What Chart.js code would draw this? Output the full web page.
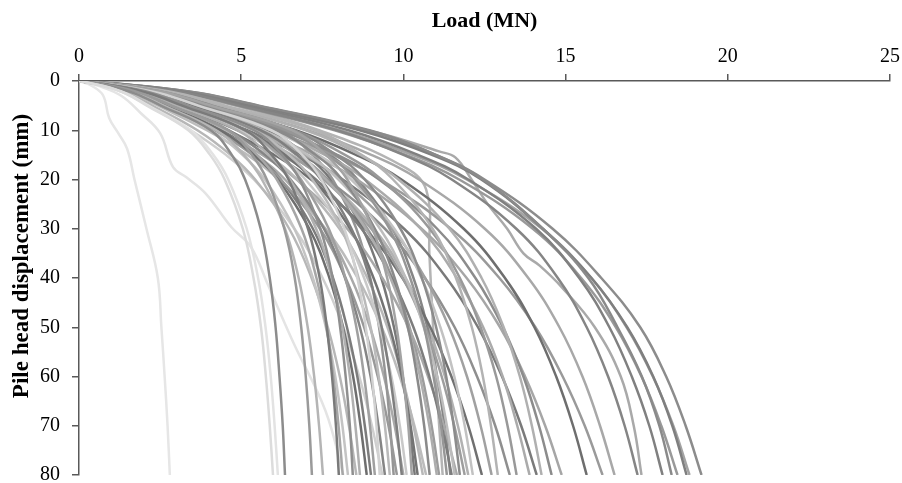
<!DOCTYPE html>
<html>
<head>
<meta charset="utf-8">
<script src="https://cdn.jsdelivr.net/npm/chart.js@4/dist/chart.umd.min.js"></script>
<style>
  html, body { margin: 0; background: #fff; }
</style>
</head>
<body>
<canvas id="myChart" width="902" height="483"></canvas>
<script>
'use strict';
const displacement = [0, 1, 2.5, 5, 10, 15, 20, 30, 40, 50, 60, 70, 80];

// load (MN) of each pile test at those displacements
const pileLoads = [
  [0, 0.74, 1.42, 2.09, 3.37, 4.04, 4.49, 5.05, 5.38, 5.61, 5.76, 5.88, 5.98],
  [0, 0.76, 1.45, 2.14, 3.45, 4.14, 4.60, 5.17, 5.52, 5.75, 5.91, 6.03, 6.13],
  [0, 0.89, 1.71, 2.52, 4.06, 4.71, 5.12, 5.60, 5.88, 6.06, 6.18, 6.28, 6.35],
  [0, 1.01, 1.93, 2.85, 4.60, 5.33, 5.79, 6.33, 6.65, 6.85, 6.99, 7.10, 7.18],
  [0, 0.93, 1.78, 2.62, 4.23, 5.08, 5.64, 6.35, 6.77, 7.05, 7.25, 7.40, 7.52],
  [0, 1.13, 2.15, 3.18, 5.13, 5.94, 6.46, 7.06, 7.42, 7.64, 7.80, 7.92, 8.01],
  [0, 1.01, 1.92, 2.84, 4.58, 5.49, 6.10, 6.86, 7.32, 7.63, 7.84, 8.00, 8.13],
  [0, 0.89, 1.71, 2.52, 4.06, 5.04, 5.73, 6.64, 7.21, 7.61, 7.90, 8.12, 8.29],
  [0, 1.19, 2.27, 3.35, 5.40, 6.26, 6.80, 7.44, 7.82, 8.05, 8.22, 8.35, 8.44],
  [0, 1.07, 2.05, 3.03, 4.88, 5.85, 6.50, 7.31, 7.79, 8.12, 8.35, 8.52, 8.66],
  [0, 0.96, 1.83, 2.70, 4.35, 5.39, 6.13, 7.10, 7.72, 8.14, 8.45, 8.68, 8.87],
  [0, 1.13, 2.15, 3.18, 5.13, 6.16, 6.84, 7.70, 8.21, 8.55, 8.79, 8.97, 9.12],
  [0, 1.30, 2.49, 3.68, 5.93, 6.88, 7.47, 8.18, 8.58, 8.84, 9.03, 9.17, 9.27],
  [0, 1.02, 1.94, 2.86, 4.62, 5.73, 6.52, 7.55, 8.20, 8.66, 8.99, 9.23, 9.43],
  [0, 1.19, 2.26, 3.34, 5.39, 6.47, 7.19, 8.09, 8.62, 8.99, 9.24, 9.43, 9.58],
  [0, 0.92, 1.76, 2.59, 4.18, 5.35, 6.22, 7.43, 8.22, 8.79, 9.21, 9.54, 9.80],
  [0, 1.23, 2.35, 3.47, 5.60, 6.72, 7.46, 8.40, 8.96, 9.33, 9.59, 9.79, 9.95],
  [0, 1.09, 2.08, 3.07, 4.95, 6.14, 6.98, 8.09, 8.79, 9.27, 9.63, 9.89, 10.10],
  [0, 1.45, 2.76, 4.07, 6.57, 7.61, 8.27, 9.05, 9.50, 9.79, 9.99, 10.15, 10.26],
  [0, 1.13, 2.15, 3.17, 5.12, 6.35, 7.21, 8.36, 9.08, 9.58, 9.95, 10.22, 10.44],
  [0, 1.00, 1.90, 2.81, 4.53, 5.79, 6.73, 8.03, 8.89, 9.51, 9.96, 10.31, 10.60],
  [0, 1.34, 2.56, 3.78, 6.09, 7.30, 8.11, 9.12, 9.73, 10.14, 10.42, 10.64, 10.81],
  [0, 1.19, 2.27, 3.35, 5.40, 6.71, 7.62, 8.84, 9.60, 10.13, 10.51, 10.80, 11.03],
  [0, 1.40, 2.68, 3.96, 6.38, 7.65, 8.51, 9.57, 10.21, 10.64, 10.93, 11.16, 11.34],
  [0, 1.08, 2.06, 3.04, 4.91, 6.27, 7.30, 8.71, 9.64, 10.31, 10.80, 11.18, 11.49],
  [0, 1.25, 2.38, 3.52, 5.67, 7.04, 8.00, 9.28, 10.07, 10.63, 11.04, 11.34, 11.58],
  [0, 0.94, 1.80, 2.66, 4.29, 5.65, 6.71, 8.27, 9.35, 10.16, 10.76, 11.25, 11.65],
  [0, 1.45, 2.78, 4.10, 6.61, 7.92, 8.81, 9.91, 10.57, 11.01, 11.32, 11.55, 11.74],
  [0, 1.12, 2.13, 3.15, 5.08, 6.49, 7.55, 9.01, 9.98, 10.67, 11.18, 11.57, 11.89],
  [0, 1.31, 2.50, 3.69, 5.95, 7.38, 8.39, 9.72, 10.56, 11.14, 11.57, 11.89, 12.14],
  [0, 1.01, 1.92, 2.83, 4.57, 6.02, 7.15, 8.82, 9.97, 10.83, 11.48, 12.00, 12.42],
  [0, 1.19, 2.28, 3.37, 5.43, 6.95, 8.08, 9.64, 10.67, 11.41, 11.96, 12.38, 12.72],
  [0, 1.60, 3.05, 4.51, 7.27, 8.71, 9.68, 10.90, 11.62, 12.11, 12.45, 12.70, 12.91],
  [0, 1.08, 2.05, 3.03, 4.89, 6.44, 7.65, 9.43, 10.66, 11.58, 12.27, 12.83, 13.28],
  [0, 1.45, 2.78, 4.10, 6.61, 8.20, 9.32, 10.81, 11.74, 12.38, 12.86, 13.21, 13.49],
  [0, 1.30, 2.49, 3.68, 5.93, 7.58, 8.82, 10.53, 11.65, 12.46, 13.06, 13.51, 13.89],
  [0, 1.14, 2.18, 3.22, 5.19, 6.84, 8.13, 10.02, 11.33, 12.30, 13.04, 13.63, 14.11],
  [0, 1.54, 2.94, 4.33, 6.99, 8.67, 9.85, 11.42, 12.41, 13.09, 13.59, 13.96, 14.26],
  [0, 1.37, 2.61, 3.86, 6.22, 7.96, 9.25, 11.04, 12.22, 13.07, 13.70, 14.18, 14.57],
  [0, 1.21, 2.30, 3.40, 5.48, 7.22, 8.57, 10.56, 11.95, 12.98, 13.75, 14.37, 14.88],
  [0, 1.47, 2.81, 4.14, 6.68, 8.54, 9.94, 11.86, 13.13, 14.04, 14.71, 15.23, 15.65],
  [0, 1.31, 2.49, 3.68, 5.94, 7.83, 9.30, 11.46, 12.96, 14.07, 14.91, 15.59, 16.14],
  [0, 1.55, 2.96, 4.37, 7.05, 9.01, 10.48, 12.51, 13.85, 14.81, 15.52, 16.06, 16.51],
  [0, 1.75, 3.34, 4.94, 7.96, 10.00, 11.49, 13.48, 14.76, 15.65, 16.31, 16.82, 17.22],
  [0, 1.83, 3.49, 5.15, 8.31, 10.45, 12.00, 14.09, 15.42, 16.35, 17.04, 17.58, 17.99],
  [0, 1.97, 3.76, 5.55, 8.95, 11.00, 12.45, 14.30, 15.70, 16.60, 17.35, 17.89, 18.27],
  [0, 1.73, 3.31, 4.89, 7.88, 10.07, 11.72, 13.99, 15.48, 16.55, 17.34, 17.95, 18.45],
  [0, 1.90, 3.63, 5.36, 8.65, 10.88, 12.40, 14.30, 15.80, 16.90, 17.70, 18.29, 18.73],
  [0, 1.77, 3.38, 4.98, 8.04, 10.28, 11.95, 14.27, 15.79, 16.88, 17.69, 18.32, 18.82],
  [0, 1.95, 3.73, 5.50, 8.87, 11.00, 12.50, 14.60, 16.10, 17.30, 18.10, 18.70, 19.19],
  [0, 0.80, 1.53, 2.26, 3.65, 4.67, 5.43, 6.48, 7.17, 7.67, 8.04, 8.32, 8.55],
  [0, 0.97, 1.85, 2.73, 4.41, 5.47, 6.22, 7.21, 7.83, 8.26, 8.58, 8.81, 9.00],
  [0, 0.76, 1.44, 2.13, 3.44, 4.53, 5.39, 6.64, 7.51, 8.15, 8.64, 9.03, 9.35],
  [0, 1.37, 2.61, 3.85, 6.21, 7.20, 7.82, 8.55, 8.98, 9.25, 9.45, 9.59, 9.70],
  [0, 0.94, 1.79, 2.65, 4.27, 5.46, 6.35, 7.58, 8.39, 8.97, 9.40, 9.73, 10.00],
  [0, 1.28, 2.45, 3.61, 5.83, 6.99, 7.76, 8.74, 9.32, 9.71, 9.98, 10.18, 10.35],
  [0, 0.87, 1.65, 2.44, 3.94, 5.19, 6.16, 7.60, 8.59, 9.33, 9.89, 10.34, 10.70],
  [0, 1.20, 2.28, 3.37, 5.44, 6.75, 7.67, 8.89, 9.66, 10.19, 10.58, 10.87, 11.10],
  [0, 1.42, 2.70, 3.99, 6.44, 7.73, 8.59, 9.66, 10.31, 10.74, 11.04, 11.27, 11.45],
  [0, 1.13, 2.15, 3.17, 5.12, 6.55, 7.62, 9.10, 10.07, 10.76, 11.28, 11.68, 12.00],
];
const pileGreys = [
  '#dcdcdc', '#e3e3e3', '#8c8c8c', '#9a9a9a', '#b5b5b5', '#7a7a7a', '#a6a6a6', '#c4c4c4', '#8f8f8f', '#b0b0b0',
  '#6e6e6e', '#a0a0a0', '#d2d2d2', '#858585', '#bababa', '#999999', '#7f7f7f', '#c9c9c9', '#a3a3a3', '#737373',
  '#b8b8b8', '#8a8a8a', '#adadad', '#969696', '#7d7d7d', '#bdbdbd', '#a8a8a8', '#8c8c8c', '#9e9e9e', '#c2c2c2',
  '#707070', '#a1a1a1', '#b3b3b3', '#8f8f8f', '#999999', '#ababab', '#7a7a7a', '#b0b0b0', '#8c8c8c', '#a6a6a6',
  '#6e6e6e', '#9a9a9a', '#a8a8a8', '#858585', '#808080', '#8a8a8a', '#999999', '#7f7f7f', '#a3a3a3', '#8c8c8c',
  '#b7b7b7', '#7c7c7c', '#cfcfcf', '#959595', '#a9a9a9', '#787878', '#bcbcbc', '#9c9c9c', '#868686', '#b2b2b2',
];

// the two soft piles on the left
const softDispA = [0, 1, 2.9, 7.5, 10.5, 13.7, 20, 30, 40, 50, 60, 70, 80];
const softLoadA = [0, 0.40, 0.74, 0.93, 1.20, 1.48, 1.71, 2.08, 2.43, 2.54, 2.64, 2.73, 2.80];
const softDispB = [0, 1, 3, 6.5, 10.6, 17.5, 19.5, 22.8, 29.7, 33.7, 41, 53, 67, 80];
const softLoadB = [0, 0.60, 1.30, 1.90, 2.50, 2.90, 3.30, 3.90, 4.70, 5.30, 5.80, 6.60, 7.60, 8.15];

// pile with a kink near 15 mm
const kinkDisp = [0, 1, 3, 7, 10.5, 14.3, 15.5, 20, 25, 30, 35, 37.5, 42, 50, 60, 70, 80];
const kinkLoad = [0, 1.8, 4.0, 6.6, 9.2, 11.1, 11.6, 12.1, 12.6, 13.2, 13.7, 14.2, 14.9, 15.9, 16.7, 17.1, 17.34];

// pile that drops almost straight down at about 10.8 MN
const dropDisp = [0, 1, 2.5, 5, 10, 17, 22, 35, 48, 60, 80];
const dropLoad = [0, 1.5, 3.0, 4.8, 7.4, 9.9, 10.7, 10.8, 10.9, 11.0, 11.21];

const loadTicks = [0, 5, 10, 15, 20, 25];
const dispTicks = [0, 10, 20, 30, 40, 50, 60, 70, 80];
const yTitle = 'Pile head displacement (mm)';

function toPoints(loads, disps) {
  return loads.map((v, i) => ({ x: v, y: disps[i] }));
}

let datasets = [];
for (let i = 0; i < pileLoads.length; i++) {
  datasets.push({ data: toPoints(pileLoads[i], displacement), borderColor: pileGreys[i] });
}
datasets.push({ data: toPoints(kinkLoad, kinkDisp), borderColor: '#a9a9a9' });
datasets.push({ data: toPoints(dropLoad, dropDisp), borderColor: '#b4b4b4' });
datasets.push({ data: toPoints(softLoadB, softDispB), borderColor: '#e4e4e4' });
datasets.push({ data: toPoints(softLoadA, softDispA), borderColor: '#e6e6e6' });

const serif = 'Liberation Serif, "Times New Roman", serif';
const axisGrey = '#595959';

// y title sits a bit above the middle of the axis, like the original
const yTitlePlugin = {
  id: 'yTitle',
  afterDraw(chart) {
    const c = chart.ctx;
    c.save();
    c.translate(22, 256);
    c.rotate(-Math.PI / 2);
    c.font = 'bold 23px ' + serif;
    c.fillStyle = '#000';
    c.textAlign = 'center';
    c.textBaseline = 'middle';
    c.fillText(yTitle, 0, 0);
    c.restore();
  },
};

const ctx = document.getElementById('myChart').getContext('2d');
const chart = new Chart(ctx, {
  type: 'scatter',
  data: { datasets: datasets },
  plugins: [yTitlePlugin],
  options: {
    responsive: false,
    animation: false,
    layout: { padding: { top: 0, right: 12, bottom: 8, left: 0 } },
    elements: {
      point: { radius: 0 },
      line: { borderWidth: 2.5, tension: 0.4, fill: false },
    },
    datasets: { scatter: { showLine: true } },
    plugins: { legend: { display: false }, tooltip: { enabled: false } },
    scales: {
      x: {
        type: 'linear',
        position: 'top',
        min: 0,
        max: 25,
        afterBuildTicks: (s) => { s.ticks = loadTicks.map(v => ({ value: v })); },
        afterFit: (s) => { s.height = 81; s.paddingLeft = 0; s.paddingRight = 0; },
        ticks: { color: '#000', font: { family: serif, size: 20 }, padding: 5, maxRotation: 0 },
        grid: { drawOnChartArea: false, tickLength: 7, color: axisGrey, lineWidth: 1.5 },
        border: { color: axisGrey, width: 1.5 },
        title: {
          display: true,
          text: 'Load (MN)',
          color: '#000',
          font: { family: serif, size: 22, weight: 'bold' },
          padding: { top: 8, bottom: 0 },
        },
      },
      y: {
        type: 'linear',
        reverse: true,
        min: 0,
        max: 80,
        afterBuildTicks: (s) => { s.ticks = dispTicks.map(v => ({ value: v })); },
        afterFit: (s) => { s.width = 79; s.paddingTop = 0; s.paddingBottom = 0; },
        ticks: { color: '#000', font: { family: serif, size: 20 }, padding: 12 },
        grid: { drawOnChartArea: false, tickLength: 7, color: axisGrey, lineWidth: 1.5 },
        border: { color: axisGrey, width: 1.5 },
        title: { display: false },
      },
    },
  },
});
</script>
</body>
</html>
